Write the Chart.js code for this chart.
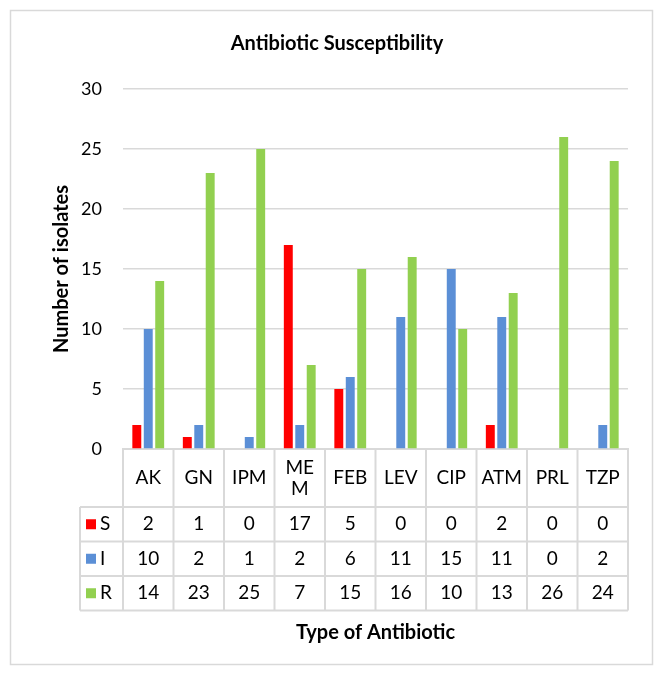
<!DOCTYPE html>
<html>
<head>
<meta charset="utf-8">
<script src="https://cdn.jsdelivr.net/npm/chart.js@4"></script>
<style>
  html, body { margin: 0; padding: 0; background: #fff; }
  #wrap { width: 665px; height: 677px; }
</style>
</head>
<body>
<div id="wrap"><canvas id="bar-chart" width="665" height="677"></canvas></div>
<script>
// data
const categories = ["AK", "GN", "IPM", ["ME", "M"], "FEB", "LEV", "CIP", "ATM", "PRL", "TZP"];
const sensitive    = [2, 1, 0, 17, 5, 0, 0, 2, 0, 0];
const intermediate = [10, 2, 1, 2, 6, 11, 15, 11, 0, 2];
const resistant    = [14, 23, 25, 7, 15, 16, 10, 13, 26, 24];
const yTicks = [0, 5, 10, 15, 20, 25, 30];

const FONT = "Lato, 'Open Sans', sans-serif";
const GRID = "#d9d9d9";

const series = [
    { label: "S", color: "#ff0000", data: sensitive },
    { label: "I", color: "#5b8fd6", data: intermediate },
    { label: "R", color: "#92d050", data: resistant }
];

// draws the frame, titles and the data table under the plot
const decor = {
    id: 'decor',
    beforeDraw(chart) {
        const ctx = chart.ctx;
        ctx.save();
        ctx.strokeStyle = GRID;
        ctx.lineWidth = 1.5;
        ctx.strokeRect(10.5, 10.5, 642, 654);
        ctx.restore();
    },
    afterDraw(chart) {
        const ctx = chart.ctx;
        const area = chart.chartArea;
        const x = chart.scales.x;
        const n = categories.length;
        const colW = (area.right - area.left) / n;
        const top = area.bottom;
        const headH = 58, rowH = 34.5;
        const legL = 80;
        ctx.save();

        // title
        ctx.fillStyle = "#000";
        ctx.font = "bold 20px " + FONT;
        ctx.textAlign = "center";
        ctx.textBaseline = "middle";
        ctx.fillText("Antibiotic Susceptibility", 337, 44);

        // y axis title
        ctx.save();
        ctx.translate(62, (area.top + area.bottom) / 2);
        ctx.rotate(-Math.PI / 2);
        ctx.fillText("Number of isolates", 0, 0);
        ctx.restore();

        // x axis title
        ctx.fillText("Type of Antibiotic", (area.left + area.right) / 2, 633);

        // table grid
        ctx.strokeStyle = GRID;
        ctx.lineWidth = 2;
        ctx.beginPath();
        const bottom = top + headH + rowH * 3;
        for (let i = 0; i <= n; i++) {
            const bx = area.left + i * colW;
            ctx.moveTo(bx, top);
            ctx.lineTo(bx, bottom);
        }
        ctx.moveTo(legL, top + headH);
        ctx.lineTo(legL, bottom);
        for (let r = 0; r <= 3; r++) {
            const by = top + headH + r * rowH;
            ctx.moveTo(legL, by);
            ctx.lineTo(area.right, by);
        }
        ctx.stroke();

        // header labels
        ctx.font = "19px " + FONT;
        ctx.fillStyle = "#000";
        categories.forEach((c, i) => {
            const cx = x.getPixelForValue(i);
            const lines = Array.isArray(c) ? c : [c];
            const cy = top + headH / 2;
            lines.forEach((t, k) => {
                ctx.fillText(t, cx, cy + (k - (lines.length - 1) / 2) * 21);
            });
        });

        // series rows
        series.forEach((s, r) => {
            const cy = top + headH + r * rowH + rowH / 2;
            ctx.fillStyle = s.color;
            ctx.fillRect(legL + 6, cy - 5, 10, 10);
            ctx.fillStyle = "#000";
            ctx.textAlign = "left";
            ctx.fillText(s.label, legL + 20, cy);
            ctx.textAlign = "center";
            s.data.forEach((v, i) => {
                ctx.fillText(String(v), x.getPixelForValue(i), cy);
            });
        });
        ctx.restore();
    }
};

new Chart(document.getElementById("bar-chart"), {
    type: 'bar',
    data: {
        labels: categories,
        datasets: series.map(s => ({
            label: s.label,
            data: s.data,
            backgroundColor: s.color,
            categoryPercentage: 0.68,
            barPercentage: 0.78
        }))
    },
    options: {
        responsive: false,
        animation: false,
        layout: { padding: { top: 89, right: 37, bottom: 228, left: 0 } },
        plugins: {
            legend: { display: false },
            title: { display: false },
            tooltip: { enabled: false }
        },
        scales: {
            x: {
                ticks: { display: false },
                grid: { display: false },
                border: { display: true, color: GRID, width: 2 },
                afterFit(scale) { scale.height = 0; }
            },
            y: {
                min: 0,
                max: 30,
                afterBuildTicks(scale) { scale.ticks = yTicks.map(v => ({ value: v })); },
                afterFit(scale) { scale.width = 123; },
                ticks: { padding: 21, color: "#000", font: { family: FONT, size: 18 } },
                grid: { color: GRID, lineWidth: 1.5, drawTicks: false },
                border: { display: false }
            }
        }
    },
    plugins: [decor]
});
</script>
</body>
</html>
